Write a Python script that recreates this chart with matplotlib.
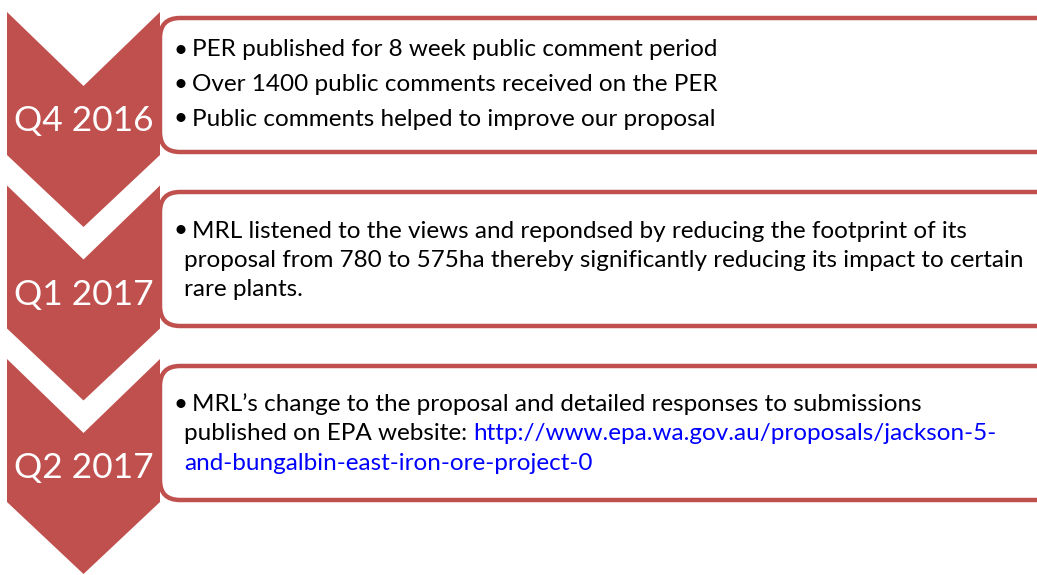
import matplotlib
matplotlib.use("Agg")
import matplotlib.pyplot as plt
from matplotlib.patches import Polygon, FancyBboxPatch

# content
quarters = ["Q4 2016", "Q1 2017", "Q2 2017"]
box1_lines = ["PER published for 8 week public comment period",
              "Over 1400 public comments received on the PER",
              "Public comments helped to improve our proposal"]
box2_lines = ["MRL listened to the views and repondsed by reducing the footprint of its",
              "proposal from 780 to 575ha thereby significantly reducing its impact to certain",
              "rare plants."]
box3_black = ["MRL\u2019s change to the proposal and detailed responses to submissions",
              "published on EPA website: "]
box3_link = ["http://www.epa.wa.gov.au/proposals/jackson-5-",
             "and-bungalbin-east-iron-ore-project-0"]

RED = "#C0504D"
FONT = "Lato"
BODY = 17.5

fig = plt.figure(figsize=(10.37, 5.75), dpi=100)
ax = fig.add_axes([0, 0, 1, 1])
ax.set_xlim(0, 1037)
ax.set_ylim(575, 0)
ax.axis("off")

# chevron geometry
cx0, cx1 = 7, 160
notch, point, side = 74, 72, 143
tops = [12, 185.5, 359]
box_tops = [18, 192, 366]
box_h = 134

for i, q in enumerate(quarters):
    t = tops[i]
    mid = (cx0 + cx1) / 2
    pts = [(cx0, t), (mid, t + notch), (cx1, t), (cx1, t + side),
           (mid, t + side + point), (cx0, t + side)]
    ax.add_patch(Polygon(pts, closed=True, facecolor=RED, edgecolor="none", zorder=2))
    ax.text(mid + 0.5, t + 109, q, color="white", fontsize=25.5, family=FONT,
            ha="center", va="center", zorder=5)
    # rounded box
    ax.add_patch(FancyBboxPatch((cx1, box_tops[i]), 1060 - cx1, box_h,
                                boxstyle="round,pad=0,rounding_size=20",
                                facecolor="white", edgecolor=RED, linewidth=3.2,
                                zorder=1))

def bullet(y):
    ax.text(174, y, "\u2022", fontsize=BODY, family=FONT, va="center", ha="left", zorder=6)

# box 1: three bullets
for j, s in enumerate(box1_lines):
    y = 50 + j * 34.5
    bullet(y)
    ax.text(192, y, s, fontsize=BODY, family=FONT, va="center", ha="left", zorder=6)

# box 2: one wrapped bullet
for j, s in enumerate(box2_lines):
    y = 231 + j * 29.5
    if j == 0:
        bullet(y)
        ax.text(192, y, s, fontsize=BODY, family=FONT, va="center", ha="left", zorder=6)
    else:
        ax.text(184, y, s, fontsize=BODY, family=FONT, va="center", ha="left", zorder=6)

# box 3: bullet with link
r = fig.canvas.get_renderer()
ys = [404, 434, 463]
bullet(ys[0])
ax.text(192, ys[0], box3_black[0], fontsize=BODY, family=FONT, va="center", ha="left", zorder=6)
t = ax.text(184, ys[1], box3_black[1], fontsize=BODY, family=FONT, va="center", ha="left", zorder=6)
bb = t.get_window_extent(renderer=r)
xend = ax.transData.inverted().transform((bb.x1, 0))[0]
ax.text(xend, ys[1], box3_link[0], color="#0000FF", fontsize=BODY, family=FONT,
        va="center", ha="left", zorder=6)
ax.text(184, ys[2], box3_link[1], color="#0000FF", fontsize=BODY, family=FONT,
        va="center", ha="left", zorder=6)

fig.savefig("out.png", dpi=100, facecolor="white")
